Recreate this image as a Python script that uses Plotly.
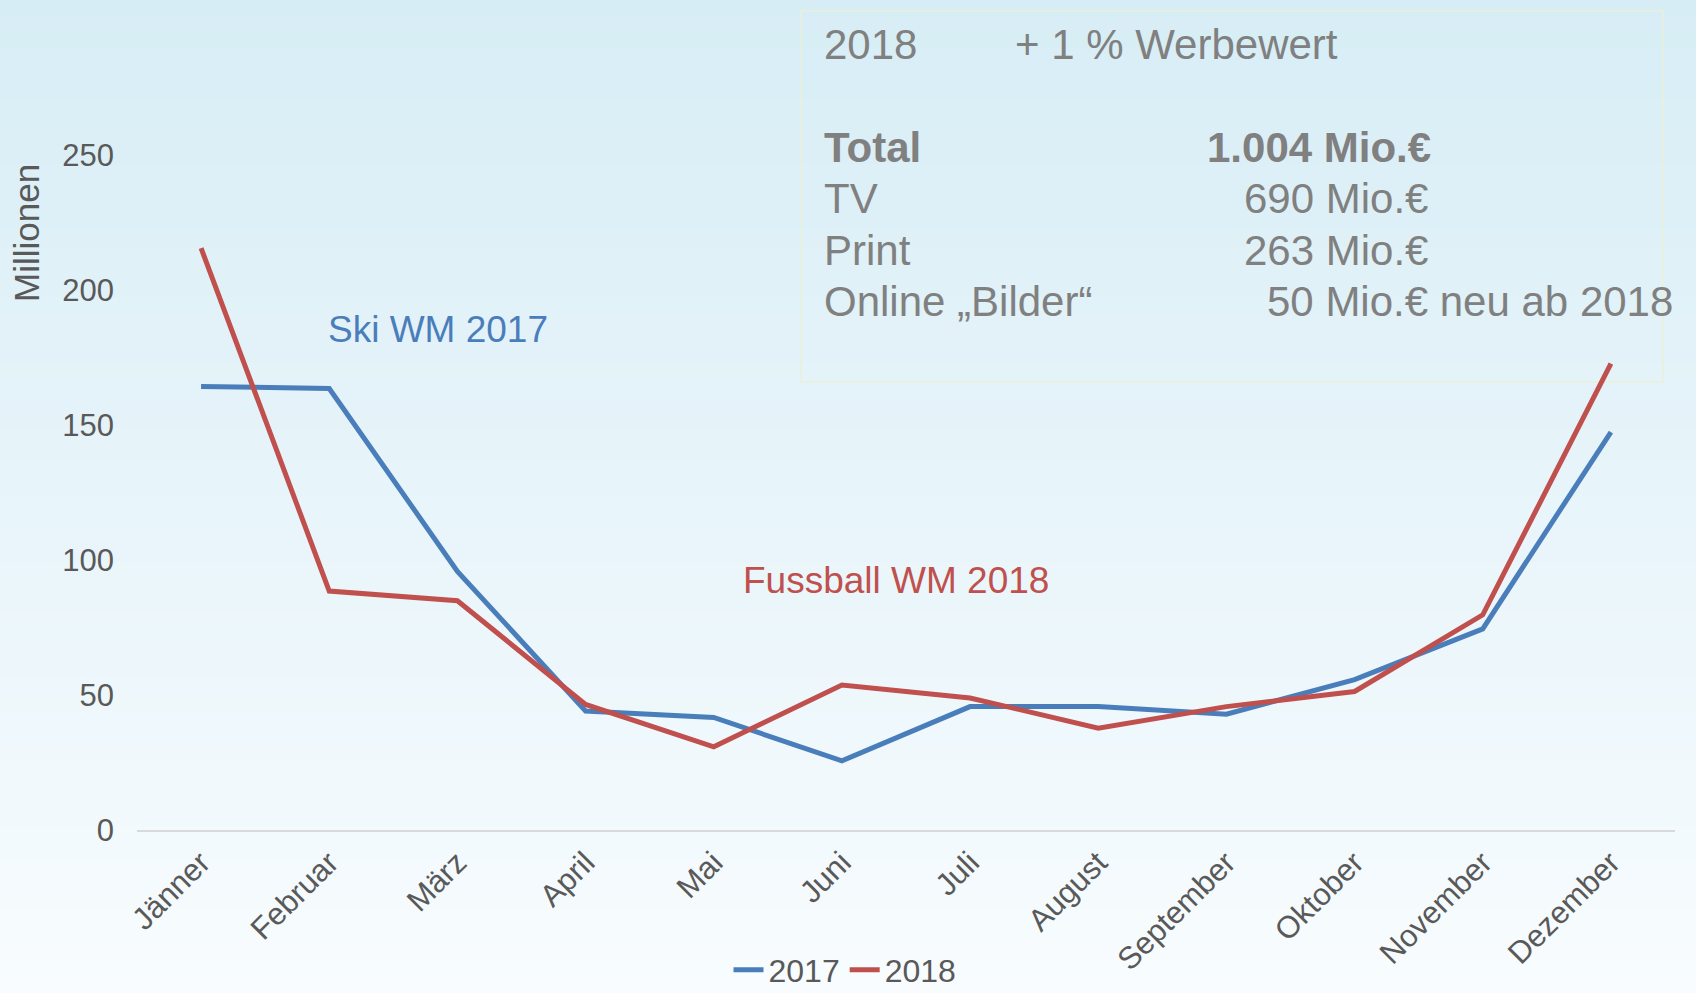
import plotly.graph_objects as go

months = ["Jänner", "Februar", "März", "April", "Mai", "Juni", "Juli", "August",
          "September", "Oktober", "November", "Dezember"]
values_2017 = [164.3, 163.5, 95.8, 44.1, 41.7, 25.6, 45.7, 45.7, 42.9, 55.7, 74.5, 147.4]
values_2018 = [215.5, 88.5, 84.9, 46.5, 30.8, 53.7, 48.9, 37.7, 45.7, 51.3, 79.7, 172.7]
y_ticks = [0, 50, 100, 150, 200, 250]

W, H = 1696, 993
L, R, T, B = 137, 21, 155, 163
PW, PH = W - L - R, H - T - B

def px_x(p):
    return (p - L) / PW

def px_y(p):
    return (H - B - p) / PH

FONT = "Liberation Sans, Arial, sans-serif"
BLUE = "#4a7ebb"
RED = "#c0504d"
GRAY = "#595959"
BOXGRAY = "#808080"

fig = go.Figure()
fig.add_trace(go.Scatter(x=months, y=values_2017, mode="lines", name="2017",
                         line=dict(color=BLUE, width=5)))
fig.add_trace(go.Scatter(x=months, y=values_2018, mode="lines", name="2018",
                         line=dict(color=RED, width=5)))

# background gradient bands
shapes = []
n = 60
top = (215, 237, 245)
bot = (248, 252, 254)
for i in range(n):
    p0 = H * i / n
    p1 = H * (i + 1) / n + 1
    f = (i + 0.5) / n
    c = tuple(round(top[k] + (bot[k] - top[k]) * f) for k in range(3))
    shapes.append(dict(type="rect", xref="paper", yref="paper", layer="below",
                       x0=px_x(-2), x1=px_x(W + 2), y0=px_y(p1), y1=px_y(p0 - 1),
                       fillcolor="rgb(%d,%d,%d)" % c, line=dict(width=0)))
# info box
shapes.append(dict(type="rect", xref="paper", yref="paper", layer="below",
                   x0=px_x(801), x1=px_x(1663), y0=px_y(382), y1=px_y(11),
                   fillcolor="rgba(0,0,0,0)", line=dict(color="rgba(235,238,215,0.9)", width=1.5)))

ann = []
def txt(text, x, y, xanchor="left", size=42, color=BOXGRAY, bold=False, angle=0):
    if bold:
        text = "<b>" + text + "</b>"
    ann.append(dict(text=text, x=px_x(x), y=px_y(y), xref="paper", yref="paper",
                    xanchor=xanchor, yanchor="middle", showarrow=False, textangle=angle,
                    font=dict(family=FONT, size=size, color=color)))

txt("2018", 822, 45)
txt("+ 1 % Werbewert", 1013, 45)
txt("Total", 822, 147, bold=True)
txt("1.004 Mio.€", 1433, 147, xanchor="right", bold=True)
txt("TV", 822, 198)
txt("690 Mio.€", 1430, 198, xanchor="right")
txt("Print", 822, 250)
txt("263 Mio.€", 1430, 250, xanchor="right")
txt("Online „Bilder“", 822, 301)
txt("50 Mio.€ neu ab 2018", 1265, 301)
txt("Ski WM 2017", 438, 329, xanchor="center", size=37, color=BLUE)
txt("Fussball WM 2018", 896, 580, xanchor="center", size=37, color=RED)
txt("Millionen", 27, 233, xanchor="center", size=35, color=GRAY, angle=-90)

fig.update_layout(
    width=W, height=H,
    margin=dict(l=L, r=R, t=T, b=B, autoexpand=False),
    paper_bgcolor="rgb(248,252,254)",
    plot_bgcolor="rgba(0,0,0,0)",
    shapes=shapes,
    annotations=ann,
    font=dict(family=FONT, color=GRAY),
    showlegend=True,
    legend=dict(orientation="h", x=px_x(845), xanchor="center", y=px_y(970), yanchor="middle",
                font=dict(size=32, color=GRAY), bgcolor="rgba(0,0,0,0)"),
    xaxis=dict(type="category", range=[-0.5, 11.5], tickangle=-45,
               tickfont=dict(size=31, color=GRAY), automargin=False,
               showgrid=False, showline=True, linecolor="#d9d9d9", linewidth=2,
               ticks="", zeroline=False),
    yaxis=dict(range=[0, 250], tickvals=y_ticks, tickfont=dict(size=31, color=GRAY),
               showgrid=False, zeroline=False, showline=False, ticks="", automargin=False,
               ticklabelstandoff=22),
)

fig.write_html("out.html", config={"displayModeBar": False},
               post_script="document.body.style.margin='0';document.body.style.overflow='hidden';")
